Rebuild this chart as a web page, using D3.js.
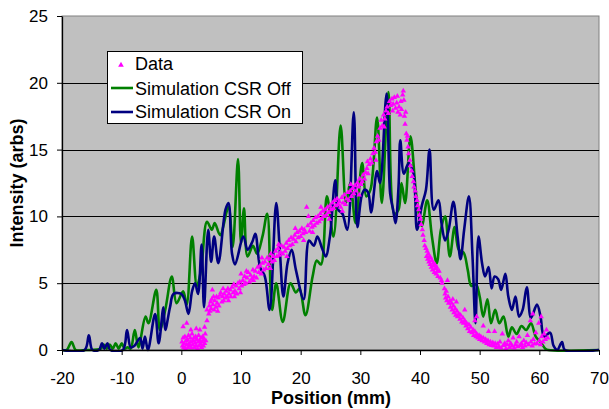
<!DOCTYPE html>
<html><head><meta charset="utf-8">
<script src="https://cdn.jsdelivr.net/npm/d3@7"></script>
<style>
html,body{margin:0;padding:0;background:#fff;}
svg{display:block;font-family:"Liberation Sans",Arial,sans-serif;}
</style></head>
<body>
<svg id="chart" width="609" height="409"></svg>
<script>
// ---------- data ----------
const xTicks = [-20,-10,0,10,20,30,40,50,60,70];
const yTicks = [0,5,10,15,20,25];
const seriesNames = ["Data","Simulation CSR Off","Simulation CSR On"];

// Measured data (Position mm, Intensity)
const dataPoints = [
[0.1,0.6],[0.2,0.3],[0.3,0.9],[0.4,0.2],[0.5,0.5],[0.6,1.0],[0.7,0.1],[0.8,0.7],[0.9,0.4],[1.0,0.8],[1.1,0.2],[1.2,1.1],[1.3,0.5],[1.4,0.3],[1.5,0.9],[1.6,0.6],[1.7,0.15],[1.8,1.2],[1.9,0.4],[2.0,0.7],[2.1,0.9],[2.2,0.2],[2.3,0.55],[2.4,1.0],[2.5,0.35],[2.6,0.8],[2.7,0.1],[2.8,0.6],[2.9,1.1],[3.0,0.3],[3.1,0.7],[3.2,0.45],[3.3,0.9],[3.4,0.2],[3.5,0.6],[3.6,1.0],[3.7,0.3],[3.8,0.8],[3.9,0.5],[4.0,1.2],[4.1,0.7],
[0.3,1.75],[0.9,2.0],[1.6,1.5],[2.5,1.6],[3.1,1.5],[3.9,1.7],[4.3,2.2],[4.6,2.7],[4.3,3.0],
[4.7,3.3],[4.8,2.9],[4.9,3.6],[5.0,3.1],[5.1,3.8],[5.2,4.5],[5.3,3.4],[5.5,3.0],[5.6,3.7],[5.8,3.2],[5.9,4.0],[6.0,3.5],[6.2,3.9],[6.3,3.3],[6.5,4.1],[6.6,4.3],[6.8,3.6],[6.9,4.0],[7.1,3.7],[7.2,4.2],[7.4,3.9],[7.5,4.4],[7.7,4.0],[7.8,4.6],[8.0,4.2],[8.2,4.5],[8.3,4.0],[8.5,4.7],[8.7,4.3],[8.8,4.9],[9.0,4.4],[9.2,4.8],[9.3,4.2],[9.5,5.0],[9.7,4.6],[9.8,5.1],[10.0,5.7],[10.1,4.8],[10.3,5.2],[10.5,4.9],[10.6,5.5],[10.8,5.0],[11.0,5.4],
[5.4,4.0],[6.1,2.9],[7.0,4.6],[7.9,3.7],[8.9,4.0],[9.9,4.3],[10.9,5.9],
[11.2,5.8],[11.4,5.1],[11.6,5.6],[11.8,5.3],[12.0,6.0],[12.2,5.5],[12.4,5.9],[12.6,5.4],[12.8,6.2],[13.0,5.8],[13.2,6.3],[13.4,5.7],[13.6,6.5],[13.8,6.0],[14.0,6.6],[14.2,6.1],[14.4,6.9],[14.6,6.4],[14.8,6.8],[15.0,7.2],[15.2,6.6],[15.4,7.0],[15.6,6.7],[15.8,7.4],[16.0,7.0],[16.2,7.6],[16.4,7.1],[16.6,7.3],[16.8,7.8],[17.0,7.2],[17.2,7.7],[17.4,7.4],[17.6,8.0],[17.8,7.6],[18.0,8.2],[18.2,7.8],[18.4,8.4],[18.6,7.9],[18.8,8.3],[19.0,8.6],[19.2,8.1],[19.4,8.8],[19.6,8.4],[19.8,8.9],[20.0,8.5],[20.2,9.1],[20.4,8.7],[20.6,9.0],[20.8,8.8],[21.0,10.7],[21.2,9.3],[21.3,10.0],[21.5,8.9],[21.7,9.5],[21.9,9.2],[22.1,9.7],[22.3,9.3],[22.5,9.9],[22.7,9.5],[22.9,10.0],[23.1,9.6],[23.3,10.2],[23.5,9.8],[23.7,10.4],[23.9,10.0],[24.1,10.5],[24.3,10.1],[24.5,10.7],[24.7,10.3],[24.9,10.8],[25.1,10.5],[25.3,11.0],[25.5,10.6],[25.7,11.2],[25.9,10.8],
[12.1,5.2],[13.5,6.9],[14.9,6.1],[16.3,7.9],[17.7,7.0],[19.1,9.1],[20.5,8.2],[22.0,8.8],[23.4,10.7],[24.8,9.8],
[26.1,11.3],[26.3,10.9],[26.5,11.1],[26.7,10.7],[26.9,11.4],[27.1,11.0],[27.3,11.6],[27.5,10.9],[27.7,11.3],[27.9,11.8],[28.1,11.2],[28.3,11.9],[28.5,11.5],[28.7,12.1],[28.9,11.7],[29.1,12.3],[29.3,11.9],[29.5,12.5],[29.7,12.2],[29.9,12.8],[30.1,12.4],[30.3,12.6],[30.5,13.1],[30.7,12.8],[30.9,13.3],[31.1,13.6],[31.3,13.2],[31.5,13.9],[31.7,14.3],[31.9,14.0],[32.1,14.7],[32.3,15.1],[32.5,14.8],[32.7,15.6],[32.9,16.0],[33.1,15.7],[33.3,16.6],[33.5,17.2],[33.7,16.8],[33.9,17.6],[34.1,17.3],[34.3,17.9],[34.5,18.2],[34.7,17.7],[34.9,18.6],[35.1,18.3],[35.3,18.8],[35.5,18.4],[35.7,18.9],[35.9,18.1],[36.1,18.5],[36.3,17.8],[36.5,18.2],[36.7,17.6],[36.9,18.0],[37.1,19.1],[37.2,19.4],[37.3,18.7],
[27.0,10.4],[28.4,12.4],[29.8,11.6],[31.2,14.1],[32.6,14.2],[34.0,16.7],[35.4,17.9],[36.2,19.0],[36.8,18.6],
[37.4,17.5],[37.5,16.9],[37.6,17.8],[37.7,16.2],[37.8,15.7],[37.9,16.0],[38.0,15.2],[38.1,14.7],[38.3,14.2],[38.4,13.8],[38.6,13.4],[38.7,13.0],[38.9,12.6],[39.0,12.2],[39.2,11.9],[39.3,11.5],[39.5,11.2],[39.6,10.8],[39.8,10.5],[39.9,10.1],[40.1,9.8],[40.2,9.4],[40.4,9.0],[40.5,8.6],[40.7,8.2],[40.8,7.8],
[41.0,7.6],[41.1,7.0],[41.2,7.4],[41.3,6.8],[41.4,7.2],[41.5,6.6],[41.6,7.0],[41.7,6.4],[41.8,6.9],[41.9,6.2],[42.0,6.7],[42.1,6.0],[42.2,6.5],[42.3,6.3],[42.4,5.8],[42.5,6.4],[42.6,6.1],[42.7,5.7],[42.8,6.2],[42.9,5.9],[43.0,5.5],[43.2,5.9],[43.4,5.4],[43.6,5.2],[43.7,5.0],
[44.1,4.6],[44.2,4.2],[44.3,3.9],[44.4,4.4],[44.5,3.7],[44.7,4.0],[44.8,3.5],[45.0,3.7],[45.1,3.2],[45.3,3.5],[45.4,3.0],[45.6,3.3],[45.7,2.8],[45.9,3.1],[46.0,2.6],[46.2,2.9],[46.3,2.5],[46.5,2.7],[46.7,2.3],[46.8,2.6],[47.0,2.1],[47.2,2.4],[47.3,2.0],[47.5,2.2],[47.7,1.8],[47.8,2.0],[48.0,1.6],[48.2,1.9],[48.3,1.4],[48.5,1.7],[48.7,1.3],[48.9,1.5],[49.0,1.1],[49.2,1.4],[49.4,1.0],[49.5,1.2],[49.7,0.9],[49.9,1.1],[50.0,0.8],[50.2,1.0],[50.4,0.7],[50.6,0.9],[50.8,0.6],[51.0,0.8],[51.2,0.5],[51.4,0.7],[51.6,0.4],[51.8,0.6],[52.0,0.35],[52.2,0.55],[52.4,0.3],[52.6,0.5],
[45.5,3.8],[46.1,3.6],[47.5,3.0],[49.2,2.2],[44.6,5.2],[49.5,2.5],[50.6,1.8],[51.5,1.4],[52.5,1.4],
[52.8,0.2],[53.0,0.45],[53.2,0.25],[53.4,0.6],[53.6,0.15],[53.8,1.2],[54.0,0.35],[54.2,0.5],[54.4,0.1],[54.6,0.4],[54.8,0.7],[55.0,0.2],[55.2,0.5],[55.4,0.3],[55.6,0.9],[55.8,0.15],[56.0,0.4],[56.2,0.6],[56.4,0.25],[56.6,1.0],[56.8,0.35],[57.0,0.5],[57.2,0.2],[57.4,0.7],[57.6,0.3],[57.8,0.55],[58.0,1.1],[58.2,0.4],[58.5,2.2],[58.6,0.6],[58.8,0.3],[59.0,0.8],[59.2,0.45],[59.4,1.3],[59.6,0.5],[59.9,2.0],[60.0,0.7],[60.2,0.4],[60.4,1.0],[60.6,0.6],[60.8,1.2],[61.0,0.8],[61.2,1.5],[61.4,0.9],[58.9,2.7],[60.3,2.5]
];

// Simulation, CSR off (Position mm, Intensity)
const csrOff = [
[-20,0],[-19.2,0],[-18.4,0.6],[-17.7,0],[-16,0],[-13.5,0.1],[-13.0,0.4],[-12.5,0.1],[-12.0,0.4],[-11.5,0.1],[-11.0,0.5],[-10.5,0.1],[-10.0,0.5],[-9.5,0.1],[-9.0,0.2],[-8.5,0.1],[-7.8,1.5],[-7.2,0.2],[-6.0,2.5],[-5.5,2.0],[-4.2,4.5],[-3.6,1.5],[-2.7,3.0],[-1.6,5.5],[-0.8,3.5],[0.3,4.4],[0.9,3.4],[1.8,8.5],[2.6,4.8],[3.3,6.0],[4.3,9.6],[5.1,9.0],[5.6,9.5],[6.5,8.6],[7.9,10.7],[8.6,7.7],[9.5,14.3],[10.0,8.0],[10.5,10.6],[11.1,7.0],[12.0,7.8],[12.7,7.2],[13.6,8.5],[14.4,10.2],[15.2,3.0],[15.9,5.0],[17.0,2.1],[18.3,5.0],[19.2,4.3],[19.8,4.6],[20.8,2.6],[22.0,5.5],[22.7,6.7],[23.4,6.4],[24.4,11.5],[25.5,8.5],[26.7,16.8],[27.6,11.0],[28.3,12.5],[29.2,9.5],[30.3,14.0],[31.0,11.5],[31.7,12.0],[32.8,17.4],[33.6,11.0],[34.7,19.3],[35.7,10.2],[36.4,10.5],[36.9,12.5],[37.5,11.0],[38.4,16.0],[39.4,11.5],[40.3,9.3],[41.2,11.2],[42.0,8.5],[42.8,6.5],[43.5,9.0],[44.2,10.0],[45.0,7.0],[45.8,9.2],[46.5,7.5],[47.3,7.3],[48.0,6.0],[48.6,4.8],[49.4,4.9],[50.0,4.0],[50.6,2.5],[51.3,3.8],[51.9,2.0],[52.6,3.0],[53.3,2.0],[54.0,2.5],[54.8,1.0],[55.4,1.7],[56.2,1.2],[57.0,1.8],[57.8,1.5],[58.6,2.0],[59.4,1.0],[60.2,0.6],[61.0,0.1],[61.5,0],[70,0]
];

// Simulation, CSR on (Position mm, Intensity)
const csrOn = [
[-20,0],[-16.2,0],[-15.5,1.1],[-14.9,0],[-13.8,0],[-13.3,0.5],[-12.9,0.1],[-12.4,0.5],[-11.9,0],[-9.8,0],[-9.1,1.5],[-8.5,0.2],[-7.9,0.3],[-6.9,0.9],[-6.5,0.1],[-6.1,1.0],[-5.6,0],[-4.4,2.7],[-3.8,0.5],[-3.0,3.2],[-2.7,1.5],[-1.9,3.2],[-1.3,4.2],[0.0,4.2],[0.6,3.7],[1.2,2.7],[1.8,4.4],[2.3,5.0],[2.8,4.2],[3.4,7.9],[3.8,3.2],[4.5,9.0],[5.0,6.6],[5.5,8.5],[6.2,6.5],[7.4,10.5],[7.9,11.0],[8.5,7.2],[9.0,6.4],[10.4,8.5],[11.1,7.5],[11.9,8.1],[12.4,8.7],[13.2,6.2],[14.0,5.5],[14.8,3.0],[15.9,11.0],[16.5,7.5],[17.1,4.0],[17.8,6.5],[18.5,7.5],[19.2,6.0],[20.5,3.8],[21.4,8.2],[22.2,7.8],[22.8,8.5],[23.6,7.6],[24.2,7.0],[24.9,8.5],[25.8,12.7],[26.3,10.5],[27.0,10.2],[27.8,9.0],[28.9,17.8],[29.5,9.2],[30.2,11.5],[30.7,12.0],[31.3,11.8],[31.8,10.3],[32.8,13.4],[33.3,12.5],[34.4,19.2],[35.0,11.7],[35.5,10.5],[35.9,9.5],[36.4,12.2],[36.7,15.7],[37.3,13.2],[38.1,14.0],[38.9,13.2],[39.5,9.0],[40.3,10.8],[41.0,12.0],[41.6,15.0],[42.3,10.5],[43.1,11.2],[43.6,9.5],[44.2,8.2],[44.8,9.0],[45.6,11.1],[46.3,8.5],[46.8,6.8],[47.4,9.0],[48.2,11.5],[48.8,7.0],[49.3,2.0],[49.8,8.5],[50.4,6.5],[50.9,5.5],[51.5,6.2],[52.0,4.6],[52.5,5.5],[53.1,5.3],[53.6,4.5],[54.3,5.7],[54.8,4.0],[55.4,3.0],[56.0,4.0],[56.6,2.5],[57.2,3.0],[57.9,4.7],[58.6,2.4],[59.6,3.4],[60.2,2.5],[60.8,1.0],[61.8,1.3],[62.4,0.3],[63.0,0],[63.8,0.6],[64.3,0],[70,0]
];

// ---------- layout ----------
const svg = d3.select("#chart");
const m = {left:62, right:10, top:16, bottom:59};
const W = 609, H = 409;
const x = d3.scaleLinear().domain([-20,70]).range([m.left, W - m.right]);
const y = d3.scaleLinear().domain([0,25]).range([H - m.bottom, m.top]);

// plot area
svg.append("rect").attr("x", x(-20)).attr("y", y(25))
  .attr("width", x(70)-x(-20)).attr("height", y(0)-y(25))
  .attr("fill", "#c0c0c0").attr("stroke", "#808080").attr("stroke-width", 1);

// gridlines
svg.append("g").selectAll("line").data(yTicks.filter(t => t > 0 && t < 25)).join("line")
  .attr("x1", x(-20)).attr("x2", x(70))
  .attr("y1", d => Math.round(y(d)) + 0.5).attr("y2", d => Math.round(y(d)) + 0.5)
  .attr("stroke", "#000").attr("stroke-width", 1);

// clip
svg.append("clipPath").attr("id","clip").append("rect")
  .attr("x", x(-20)).attr("y", y(25)).attr("width", x(70)-x(-20)).attr("height", y(0)-y(25)+2);

const line = d3.line().x(d => x(d[0])).y(d => y(d[1])).curve(d3.curveCatmullRom.alpha(0.5));
const gLines = svg.append("g").attr("clip-path","url(#clip)");

gLines.append("path").datum(csrOff).attr("d", line)
  .attr("fill","none").attr("stroke","#008000").attr("stroke-width",2.6).attr("stroke-linejoin","round");
gLines.append("path").datum(csrOn).attr("d", line)
  .attr("fill","none").attr("stroke","#000080").attr("stroke-width",2.6).attr("stroke-linejoin","round");

const tri = d3.symbol().type(d3.symbolTriangle).size(13);
gLines.append("g").selectAll("path").data(dataPoints).join("path")
  .attr("d", tri)
  .attr("transform", d => `translate(${x(d[0])},${y(d[1])})`)
  .attr("fill","#ff00ff");

// axes
const fmt = d => String(d);
const xAxis = d3.axisBottom(x).tickValues(xTicks).tickFormat(fmt).tickSize(5).tickSizeOuter(0).tickPadding(17);
const gx = svg.append("g").attr("transform", `translate(0,${y(0)})`).call(xAxis);
const yAxis = d3.axisLeft(y).tickValues(yTicks).tickFormat(fmt).tickSize(5).tickSizeOuter(0).tickPadding(9);
const gy = svg.append("g").attr("transform", `translate(${x(-20)},0)`).call(yAxis);
[gx, gy].forEach(g => {
  g.selectAll("path.domain").attr("stroke","#000").attr("stroke-width",1.3);
  g.selectAll(".tick line").attr("stroke","#000");
  g.selectAll(".tick text").attr("font-size", 17).attr("fill","#000")
    .attr("font-family","'Liberation Sans',Arial,sans-serif");
});

// axis titles
svg.append("text").attr("x", 331).attr("y", 404).attr("text-anchor","middle")
  .attr("font-size", 18).attr("font-weight","bold").text("Position (mm)");
svg.append("text").attr("transform", `translate(23,${(y(0)+y(25))/2}) rotate(-90)`)
  .attr("text-anchor","middle").attr("font-size", 18).attr("font-weight","bold").text("Intensity (arbs)");

// legend
const lg = svg.append("g");
lg.append("rect").attr("x",107.5).attr("y",51.5).attr("width",195).attr("height",72)
  .attr("fill","#fff").attr("stroke","#000").attr("stroke-width",1);
const rows = [65, 88, 112];
lg.append("path").attr("d", d3.symbol().type(d3.symbolTriangle).size(14))
  .attr("transform", `translate(121,${rows[0]})`).attr("fill","#ff00ff");
lg.append("line").attr("x1",111).attr("x2",133).attr("y1",rows[1]).attr("y2",rows[1])
  .attr("stroke","#008000").attr("stroke-width",2.6);
lg.append("line").attr("x1",111).attr("x2",133).attr("y1",rows[2]).attr("y2",rows[2])
  .attr("stroke","#000080").attr("stroke-width",2.6);
lg.selectAll("text.lab").data(seriesNames).join("text").attr("class","lab")
  .attr("x",135).attr("y",(d,i)=>[70,95,118][i]).attr("font-size",18).attr("fill","#000").text(d=>d);
</script>
</body></html>
